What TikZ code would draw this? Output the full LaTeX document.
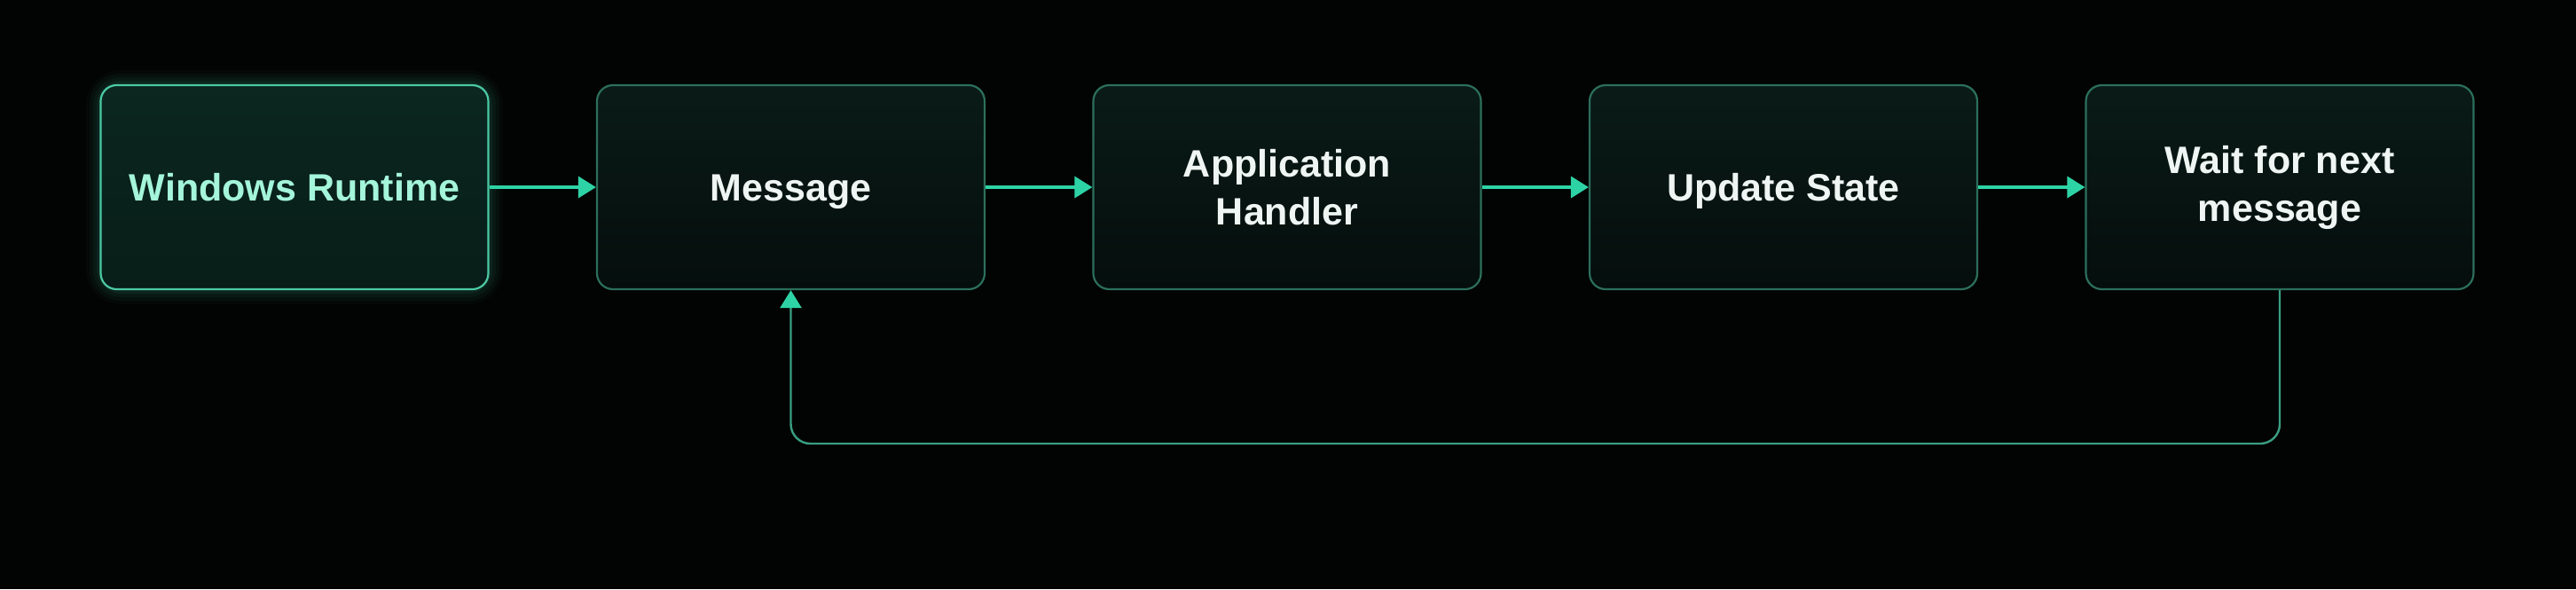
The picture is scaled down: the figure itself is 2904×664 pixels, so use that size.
\documentclass[tikz,border=0pt]{standalone}
\usepackage{fontspec}
\setmainfont{Liberation Sans}
\usetikzlibrary{arrows.meta}
\definecolor{bg}{HTML}{020303}
\definecolor{boxtop}{HTML}{0A1B17}
\definecolor{boxbot}{HTML}{050E0C}
\definecolor{boxline}{HTML}{2C6F5B}
\definecolor{hitop}{HTML}{0B271F}
\definecolor{hibot}{HTML}{081D18}
\definecolor{hiline}{HTML}{4BC9A2}
\definecolor{hitext}{HTML}{A4F5DA}
\definecolor{txt}{HTML}{EEF5F2}
\definecolor{arrowc}{HTML}{2ED3A5}
\definecolor{loopc}{HTML}{3A9E82}
\tikzset{
  flowbox/.style={rectangle, rounded corners=18pt, minimum width=437pt, minimum height=230pt,
    draw=boxline, line width=2.2pt, top color=boxtop, bottom color=boxbot,
    text=txt, font=\bfseries\fontsize{43}{54}\selectfont, align=center, inner sep=0pt},
  oneline/.style={text height=31pt, text depth=0pt},
  hibox/.style={flowbox, draw=hiline, top color=hitop, bottom color=hibot, text=hitext},
  flowarrow/.style={draw=arrowc, line width=3.5pt, -{Triangle[length=20pt,width=24pt]}},
  looparrow/.style={draw=loopc, line width=2.4pt, rounded corners=22pt,
    -{Triangle[length=20pt,width=24pt,fill=arrowc,color=arrowc]}},
}
\begin{document}
\begin{tikzpicture}[x=1pt,y=-1pt]
\fill[bg] (0,0) rectangle (2904,664);
\useasboundingbox (0,0) rectangle (2904,664);
% glow around first box
\foreach \w/\o in {34/0.03,26/0.04,18/0.05,10/0.07}{
  \draw[hiline, opacity=\o, line width=\w pt, rounded corners=22pt] (114,96) rectangle (550,326);
}
\node[hibox, oneline]   (b1) at (332,211)    {Windows Runtime};
\node[flowbox, oneline] (b2) at (891.5,211)  {Message};
\node[flowbox] (b3) at (1451,211)   {Application\\Handler};
\node[flowbox, oneline] (b4) at (2010.5,211) {Update State};
\node[flowbox] (b5) at (2570,211)   {Wait for next\\message};
\draw[flowarrow] (b1) -- (b2);
\draw[flowarrow] (b2) -- (b3);
\draw[flowarrow] (b3) -- (b4);
\draw[flowarrow] (b4) -- (b5);
\coordinate (lowturn) at (2570,500);
\draw[looparrow] (b5.south) -- (lowturn) -| (b2.south);
\end{tikzpicture}
\end{document}
